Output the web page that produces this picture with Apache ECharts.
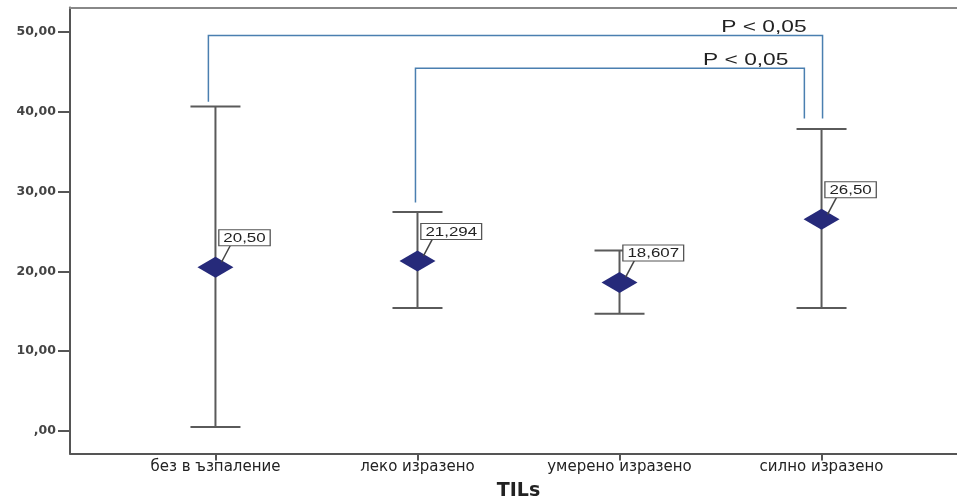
<!DOCTYPE html>
<html>
<head>
<meta charset="utf-8">
<script src="https://cdn.jsdelivr.net/npm/echarts@6/dist/echarts.min.js"></script>
<style>html,body{margin:0;padding:0;background:#fff}#c{width:957px;height:500px}</style>
</head>
<body>
<div id="c"></div>
<script>
const categories = ['без в ъзпаление', 'леко изразено', 'умерено изразено', 'силно изразено'];
const means = [20.50, 21.294, 18.607, 26.50];
const meanLabels = ['20,50', '21,294', '18,607', '26,50'];
const lowerCI = [0.5, 15.4, 14.7, 15.4];
const upperCI = [40.6, 27.4, 22.6, 37.8];
const yTicks = [0, 10, 20, 30, 40, 50];
const yTickLabels = [',00', '10,00', '20,00', '30,00', '40,00', '50,00'];
const xAxisTitle = 'TILs';
// significance brackets: start x, end x, top level, start drop level, end drop level
const bracketStartX = [-0.035, 0.99];
const bracketEndX = [3.005, 2.915];
const bracketTop = [49.5, 45.4];
const bracketStartEnd = [41.2, 28.6];
const bracketEndEnd = [39.1, 39.1];
const bracketLabels = ['P < 0,05', 'P < 0,05'];

const catIdx = categories.map((c, i) => i);
const seriesData = catIdx.map(i => [i, means[i], lowerCI[i], upperCI[i], meanLabels[i]]);
const bracketData = bracketLabels.map((t, i) => [bracketStartX[i], bracketEndX[i], bracketTop[i], bracketStartEnd[i], bracketEndEnd[i], t]);

const chart = echarts.init(document.getElementById('c'));
const FONT = '"Liberation Sans", Arial, sans-serif';
const WIDE = '"DejaVu Sans", Verdana, sans-serif';
chart.setOption({
  animation: false,
  grid: { left: 70, right: -10, top: 7.5, bottom: 46.5, containLabel: false, outerBoundsMode: 'none' },
  xAxis: [{
    type: 'value', min: -0.72, max: 3.72,
    splitLine: { show: false },
    axisLine: { show: true, onZero: false, lineStyle: { color: '#555', width: 2 } },
    axisTick: { show: true, customValues: catIdx, length: 7, lineStyle: { color: '#555', width: 2 } },
    axisLabel: { customValues: catIdx, formatter: v => categories[Math.round(v)], color: '#222', fontFamily: WIDE, fontSize: 15, margin: 6 },
    name: xAxisTitle, nameLocation: 'middle', nameGap: 28,
    nameTextStyle: { fontFamily: WIDE, fontSize: 19, fontWeight: 'bold', color: '#222' }
  }, {
    type: 'value', min: -0.72, max: 3.72, position: 'top',
    splitLine: { show: false }, axisTick: { show: false }, axisLabel: { show: false },
    axisLine: { show: true, onZero: false, lineStyle: { color: '#888', width: 2 } }
  }],
  yAxis: {
    type: 'value', min: -2.8, max: 53,
    splitLine: { show: false },
    axisLine: { show: true, onZero: false, lineStyle: { color: '#555', width: 2 } },
    axisTick: { show: true, customValues: yTicks, length: 12, lineStyle: { color: '#555', width: 2 } },
    axisLabel: { customValues: yTicks, formatter: v => yTickLabels[yTicks.indexOf(Math.round(v))], color: '#444', fontFamily: WIDE, fontSize: 12.5, fontWeight: 'bold', margin: 14 }
  },
  series: [{
    type: 'custom',
    data: seriesData,
    renderItem: function (params, api) {
      const x = api.value(0);
      const m = api.coord([x, api.value(1)]);
      const lo = api.coord([x, api.value(2)]);
      const hi = api.coord([x, api.value(3)]);
      const label = seriesData[params.dataIndex][4];
      const cap = 25, dw = 18, dh = 10.5;
      const lineStyle = { stroke: '#5a5a5a', lineWidth: 2 };
      return {
        type: 'group',
        children: [
          { type: 'line', shape: { x1: lo[0], y1: lo[1], x2: hi[0], y2: hi[1] }, style: lineStyle },
          { type: 'line', shape: { x1: lo[0] - cap, y1: lo[1], x2: lo[0] + cap, y2: lo[1] }, style: lineStyle },
          { type: 'line', shape: { x1: hi[0] - cap, y1: hi[1], x2: hi[0] + cap, y2: hi[1] }, style: lineStyle },
          { type: 'polygon', shape: { points: [[m[0], m[1] - dh], [m[0] + dw, m[1]], [m[0], m[1] + dh], [m[0] - dw, m[1]]] }, style: { fill: '#262a7a' } },
          { type: 'line', shape: { x1: m[0] + 6, y1: m[1] - 5, x2: m[0] + 15, y2: m[1] - 22 }, style: { stroke: '#444', lineWidth: 1.5 } },
          { type: 'text', x: m[0] + 4, y: m[1] - 22, scaleX: 1.3, originX: 0, originY: 0, style: {
              text: label, font: '13px ' + FONT, fill: '#222', align: 'left', verticalAlign: 'bottom',
              backgroundColor: '#fff', borderColor: '#555', borderWidth: 1, padding: [2, 3, 0, 3]
            } }
        ]
      };
    },
    z: 5
  }, {
    type: 'custom',
    data: bracketData,
    renderItem: function (params, api) {
      const a = api.coord([api.value(0), api.value(3)]);
      const b = api.coord([api.value(0), api.value(2)]);
      const c = api.coord([api.value(1), api.value(2)]);
      const d = api.coord([api.value(1), api.value(4)]);
      const t = bracketData[params.dataIndex][5];
      return {
        type: 'group',
        children: [
          { type: 'polyline', shape: { points: [a, b, c, d] }, style: { stroke: '#4a7fb0', lineWidth: 1.5, fill: null } },
          { type: 'text', x: c[0] - 16, y: c[1], scaleX: 1.42, originX: 0, originY: 0, style: { text: t, font: '16px ' + FONT, fill: '#222', align: 'right', verticalAlign: 'bottom' } }
        ]
      };
    },
    z: 4
  }]
});
</script>
</body>
</html>
